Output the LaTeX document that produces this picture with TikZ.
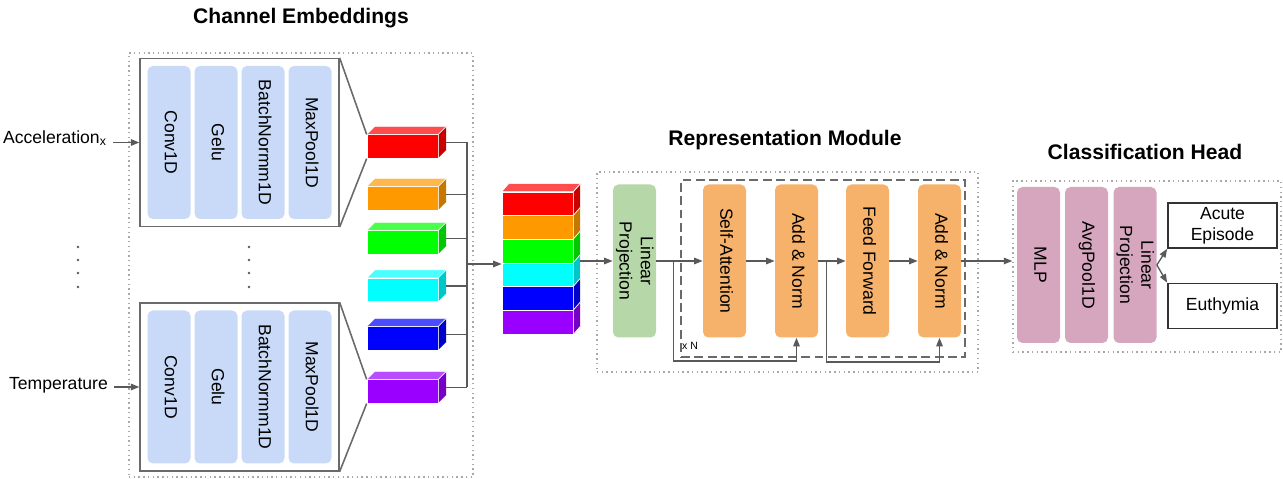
\documentclass[tikz,border=0pt]{standalone}
\usepackage{fontspec}
\setmainfont{Liberation Sans}
\usepackage{graphicx}
\usetikzlibrary{arrows.meta, positioning, fit, calc}
\definecolor{embblue}{HTML}{C9DAF8}
\definecolor{projgreen}{HTML}{B6D7A8}
\definecolor{encorange}{HTML}{F6B26B}
\definecolor{headpink}{HTML}{D5A6BD}
\definecolor{linegray}{HTML}{595959}
\definecolor{framegray}{HTML}{6A6A6A}
\definecolor{dotgray}{HTML}{A8A8A8}
\definecolor{cubered}{HTML}{FF0000}
\definecolor{cubeorange}{HTML}{FF9900}
\definecolor{cubegreen}{HTML}{00FF00}
\definecolor{cubecyan}{HTML}{00FFFF}
\definecolor{cubeblue}{HTML}{0000FF}
\definecolor{cubepurple}{HTML}{9900FF}

% text running top to bottom inside the tall blocks
\newcommand{\vlabel}[1]{\rotatebox{-90}{\begin{tabular}{@{}c@{}}#1\end{tabular}}}

% feature cube: front face is the node, top and side faces drawn on it
\newcommand{\featcube}[4]{%
  \node[cube=#4] (#1) at (#2,#3) {};
  \filldraw[fill=#4!70!white, draw=white, line width=0.4pt]
    (#1.north west) -- (#1.north east) -- ++(8,-8) -- ($(#1.north west)+(8,-8)$) -- cycle;
  \filldraw[fill=#4!78!black, draw=white, line width=0.4pt]
    (#1.north east) -- (#1.south east) -- ++(8,-8) -- ($(#1.north east)+(8,-8)$) -- cycle;
}

\begin{document}
\begin{tikzpicture}[
  x=0.2mm, y=-0.2mm,
  font=\fontsize{10}{12}\selectfont,
  every node/.style={align=center},
  heading/.style={font=\fontsize{12}{14}\selectfont\bfseries},
  blk/.style={fill=#1, rounded corners=1.1mm, minimum width=8.6mm, minimum height=30.6mm, inner sep=0pt},
  cube/.style={fill=#1, draw=white, line width=0.4pt, minimum width=14.2mm, minimum height=4.7mm, inner sep=0pt},
  grp/.style={draw=dotgray, line width=0.8pt, dash pattern=on 0.8pt off 1.9pt, inner sep=0pt},
  frame/.style={draw=framegray, line width=0.9pt},
  outbox/.style={draw=black!80, line width=1pt, minimum width=21.8mm, minimum height=9mm, inner sep=0pt},
  wire/.style={draw=linegray, line width=0.75pt},
  arr/.style={-{Triangle[length=1.7mm,width=1.3mm]}, draw=linegray, line width=0.75pt},
]
\useasboundingbox (0,0) rectangle (1283,479);

%% Group frames and headings
\node[grp, minimum width=68.8mm, minimum height=84.8mm] (embgrp) at (301,265) {};
\node[grp, minimum width=76.2mm, minimum height=40mm] (repgrp) at (787.5,272) {};
\node[grp, minimum width=53.6mm, minimum height=34.2mm] (clsgrp) at (1147,266.5) {};
\node[heading] (embtitle) at (301,18) {Channel Embeddings};
\node[heading] (reptitle) at (785,140) {Representation Module};
\node[heading] (clstitle) at (1145,152) {Classification Head};

%% Channel embedding blocks
\foreach \b/\yy in {1/142.5, 2/387} {
  \node[blk=embblue] (conv\b) at (169,\yy) {\vlabel{Conv1D}};
  \node[blk=embblue] (gelu\b) at (216,\yy) {\vlabel{Gelu}};
  \node[blk=embblue] (bn\b)   at (263,\yy) {\vlabel{BatchNormm1D}};
  \node[blk=embblue] (pool\b) at (310,\yy) {\vlabel{MaxPool1D}};
  \node[frame, fit=(conv\b)(pool\b), inner sep=1.4mm] (emb\b) {};
}

\node[anchor=east] (accel) at (113,138) {Acceleration\textsubscript{x}};
\node[anchor=east] (temp) at (114,385) {Temperature};
\draw[arr] (accel.east |- emb1.west) -- (emb1.west);
\draw[arr] (temp.east |- emb2.west) -- (emb2.west);

% elided channels
\foreach \yy in {247,260,273,287} {
  \fill[linegray] (78,\yy) circle (0.28mm);
  \fill[linegray] (249,\yy) circle (0.28mm);
}

%% Per-channel features
\foreach \n/\yy/\c in {1/146.5/cubered, 2/198.5/cubeorange, 3/242.5/cubegreen,
                       4/290/cubecyan, 5/338.5/cubeblue, 6/391.5/cubepurple} {
  \featcube{cb\n}{402.5}{\yy}{\c}
  \coordinate (cbr\n) at ($(cb\n.east)+(8,-4)$);
}

\draw[frame] (emb1.north east) -- (cb1.north west);
\draw[frame] (emb1.south east) -- (cb1.south west);
\draw[frame] (emb2.north east) -- (cb6.north west);
\draw[frame] (emb2.south east) -- (cb6.south west);

\coordinate (bus) at (467,264);
\foreach \n in {1,...,6}
  \draw[wire] (cbr\n) -- (cbr\n -| bus);
\draw[wire] (cbr1 -| bus) -- (cbr6 -| bus);

%% Stacked channel features
\foreach \n/\yy/\c in {1/203.8/cubered, 2/227.5/cubeorange, 3/251.2/cubegreen,
                       4/274.8/cubecyan, 5/298.5/cubeblue, 6/322.2/cubepurple} {
  \node[cube=\c, minimum height=4.73mm] (col\n) at (537.5,\yy) {};
  \filldraw[fill=\c!78!black, draw=white, line width=0.4pt]
    (col\n.north east) -- (col\n.south east) -- ++(7,-8) -- ($(col\n.north east)+(7,-8)$) -- cycle;
}
\filldraw[fill=cubered!70!white, draw=white, line width=0.4pt]
  (col1.north west) -- (col1.north east) -- ++(7,-8) -- ($(col1.north west)+(7,-8)$) -- cycle;
\coordinate (colR) at ($(col1.north east)+(7,0)$);

\draw[arr] (bus) -- (bus -| col1.west);

%% Representation module
\node[blk=projgreen] (proj) at (634.5,261) {\vlabel{Linear\\Projection}};
\node[blk=encorange] (sa)  at (724.5,261) {\vlabel{Self-Attention}};
\node[blk=encorange] (an1) at (796.5,261) {\vlabel{Add \& Norm}};
\node[blk=encorange] (ff)  at (867.5,261) {\vlabel{Feed Forward}};
\node[blk=encorange] (an2) at (939.5,261) {\vlabel{Add \& Norm}};
\node[draw=framegray, line width=0.9pt, dash pattern=on 5pt off 2.6pt,
      minimum width=56.8mm, minimum height=35.4mm, inner sep=0pt] (enc) at (823,268.5) {};
\node[font=\fontsize{6}{7}\selectfont, inner sep=0pt] (reps) at (690,346) {x N};

\draw[arr] (colR |- proj.west) -- (proj.west);
\draw[arr] (proj.east) -- (sa.west);
\draw[arr] (sa.east) -- (an1.west);
\draw[arr] (an1.east) -- (ff.west);
\draw[arr] (ff.east) -- (an2.west);

\coordinate (res1) at ($(proj.east)+(17,0)$);
\coordinate (res2) at ($(an1.east)+(8,0)$);
\draw[arr] (res1) -- ++(0,100) -| (an1.south);
\draw[arr] (res2) -- ++(0,101) -| (an2.south);

\draw[arr] (an2.east) -- (an2.east -| clsgrp.west);

%% Classification head
\node[blk=headpink, minimum height=31.2mm] (mlp)  at (1038.5,265) {\vlabel{MLP}};
\node[blk=headpink, minimum height=31.2mm] (avg)  at (1086.5,265) {\vlabel{AvgPool1D}};
\node[blk=headpink, minimum height=31.2mm] (head) at (1135,265) {\vlabel{Linear\\Projection}};

\node[outbox] (acute) at (1222.5,225.5) {Acute\\Episode};
\node[outbox] (euth)  at (1222.5,306) {Euthymia};
\draw[arr] (head.east) -- (acute.south west);
\draw[arr] (head.east) -- (euth.north west);

\end{tikzpicture}
\end{document}
